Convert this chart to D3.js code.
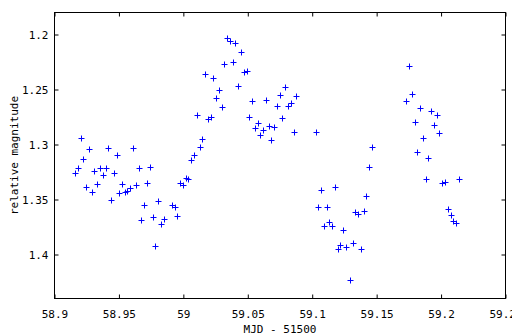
<!DOCTYPE html>
<html>
<head>
<meta charset="utf-8">
<script src="https://cdn.jsdelivr.net/npm/d3@7"></script>
<style>
  body { margin: 0; background: #fff; }
  text { font-family: "DejaVu Sans Mono", monospace; font-size: 11px; fill: #000; }
</style>
</head>
<body>
<div id="chart-area"></div>
<script>
// MJD - 51500
var mjd = [
  58.9163, 58.9186, 58.9209, 58.9225, 58.9248, 58.9271, 58.9295, 58.9310, 58.9333, 58.9357,
  58.9380, 58.9403, 58.9419, 58.9442, 58.9465, 58.9488, 58.9504, 58.9527, 58.9550, 58.9566,
  58.9589, 58.9612, 58.9636, 58.9659, 58.9674, 58.9698, 58.9721, 58.9744, 58.9767, 58.9783,
  58.9806, 58.9829, 58.9853, 58.9915, 58.9938, 58.9953, 58.9977, 59.0000, 59.0023, 59.0039,
  59.0062, 59.0085, 59.0109, 59.0132, 59.0147, 59.0171, 59.0194, 59.0217, 59.0233, 59.0256,
  59.0279, 59.0302, 59.0318, 59.0341, 59.0364, 59.0388, 59.0403, 59.0426, 59.0450, 59.0473,
  59.0496, 59.0512, 59.0535, 59.0558, 59.0581, 59.0597, 59.0620, 59.0643, 59.0667, 59.0682,
  59.0705, 59.0729, 59.0752, 59.0767, 59.0791, 59.0814, 59.0837, 59.0860, 59.0876, 59.1031,
  59.1047, 59.1070, 59.1093, 59.1116, 59.1132, 59.1155, 59.1178, 59.1202, 59.1217, 59.1240,
  59.1264, 59.1295, 59.1318, 59.1333, 59.1357, 59.1380, 59.1403, 59.1419, 59.1442, 59.1465,
  59.1729, 59.1752, 59.1775, 59.1798, 59.1814, 59.1837, 59.1860, 59.1884, 59.1899, 59.1922,
  59.1946, 59.1969, 59.1984, 59.2008, 59.2031, 59.2054, 59.2078, 59.2093, 59.2116, 59.2140
];

// relative magnitude
var mag = [
  1.3267, 1.3222, 1.2950, 1.3140, 1.3394, 1.3041, 1.3439, 1.3249, 1.3367, 1.3222,
  1.3285, 1.3222, 1.3032, 1.3511, 1.3267, 1.3104, 1.3448, 1.3367, 1.3439, 1.3430,
  1.3400, 1.3032, 1.3376, 1.3222, 1.3692, 1.3557, 1.3357, 1.3213, 1.3665, 1.3928,
  1.3520, 1.3729, 1.3683, 1.3557, 1.3575, 1.3656, 1.3357, 1.3376, 1.3312, 1.3321,
  1.3149, 1.3104, 1.2733, 1.3029, 1.2959, 1.2362, 1.2769, 1.2751, 1.2398, 1.2579,
  1.2507, 1.2661, 1.2271, 1.2033, 1.2061, 1.2253, 1.2081, 1.2471, 1.2163, 1.2344,
  1.2335, 1.2751, 1.2606, 1.2851, 1.2805, 1.2914, 1.2869, 1.2597, 1.2833, 1.2968,
  1.2842, 1.2652, 1.2552, 1.2760, 1.2480, 1.2652, 1.2624, 1.2887, 1.2561, 1.2887,
  1.3575, 1.3421, 1.3747, 1.3575, 1.3710, 1.3747, 1.3394, 1.3955, 1.3919, 1.3783,
  1.3937, 1.4235, 1.3900, 1.3620, 1.3638, 1.3955, 1.3611, 1.3475, 1.3213, 1.3023,
  1.2606, 1.2290, 1.2543, 1.2796, 1.3077, 1.2676, 1.2950, 1.3321, 1.3131, 1.2697,
  1.2824, 1.2733, 1.2896, 1.3357, 1.3348, 1.3593, 1.3647, 1.3701, 1.3719, 1.3321
];

var xTicks = [58.9, 58.95, 59, 59.05, 59.1, 59.15, 59.2, 59.25];
var xTickLabels = ["58.9", "58.95", "59", "59.05", "59.1", "59.15", "59.2", "59.25"];
var yTicks = [1.2, 1.25, 1.3, 1.35, 1.4];
var yTickLabels = ["1.2", "1.25", "1.3", "1.35", "1.4"];

var W = 512, H = 335;
var margin = {left: 54.5, top: 12.5, right: 6.5, bottom: 36.5};
var width = W - margin.left - margin.right,
    height = H - margin.top - margin.bottom;

var svg = d3.select("#chart-area")
    .append("svg")
        .attr("width", W)
        .attr("height", H);

var g = svg.append("g")
    .attr("transform", "translate(" + margin.left + ", " + margin.top + ")");

var x = d3.scaleLinear()
    .domain([58.9, 59.25])
    .range([0, width]);

var y = d3.scaleLinear()
    .domain([1.18, 1.44])
    .range([0, height]);

var tick = 4;

// bottom + mirrored top ticks
var xAxis = d3.axisBottom(x)
    .tickValues(xTicks)
    .tickSize(-tick)
    .tickPadding(tick + 8)
    .tickFormat((d, i) => xTickLabels[i]);
var xAxisGroup = g.append("g")
    .attr("transform", "translate(0, " + height + ")")
    .call(xAxis);

var xTop = d3.axisTop(x).tickValues(xTicks).tickSize(-tick).tickFormat("");
g.append("g").call(xTop);

// left + mirrored right ticks
var yAxis = d3.axisLeft(y)
    .tickValues(yTicks)
    .tickSize(-tick)
    .tickPadding(tick + 2)
    .tickFormat((d, i) => yTickLabels[i]);
g.append("g").call(yAxis);

var yRight = d3.axisRight(y).tickValues(yTicks).tickSize(-tick).tickFormat("");
g.append("g").attr("transform", "translate(" + width + ", 0)").call(yRight);

g.selectAll(".domain").remove();
g.selectAll(".tick line").attr("stroke", "#000");
g.selectAll(".tick text")
    .attr("font-family", "DejaVu Sans Mono, monospace")
    .attr("font-size", 11)
    .attr("fill", "#000");

// frame
g.append("rect")
    .attr("x", 0)
    .attr("y", 0)
    .attr("width", width)
    .attr("height", height)
    .attr("fill", "none")
    .attr("stroke", "#000");

// points
var data = mjd.map((d, i) => ({t: d, m: mag[i]}));
g.selectAll("path.pt")
    .data(data)
    .enter()
    .append("path")
        .attr("class", "pt")
        .attr("d", "M-3,0H3M0,-3V3")
        .attr("transform", d => "translate(" + Math.round(x(d.t)) + ", " + Math.round(y(d.m)) + ")")
        .attr("stroke", "#0000ff")
        .attr("stroke-width", 1)
        .attr("fill", "none");

// labels
g.append("text")
    .attr("x", width / 2)
    .attr("y", height + 34)
    .attr("text-anchor", "middle")
    .text("MJD - 51500");

g.append("text")
    .attr("transform", "rotate(-90)")
    .attr("x", -height / 2)
    .attr("y", -37)
    .attr("text-anchor", "middle")
    .text("relative magnitude");
</script>
</body>
</html>
